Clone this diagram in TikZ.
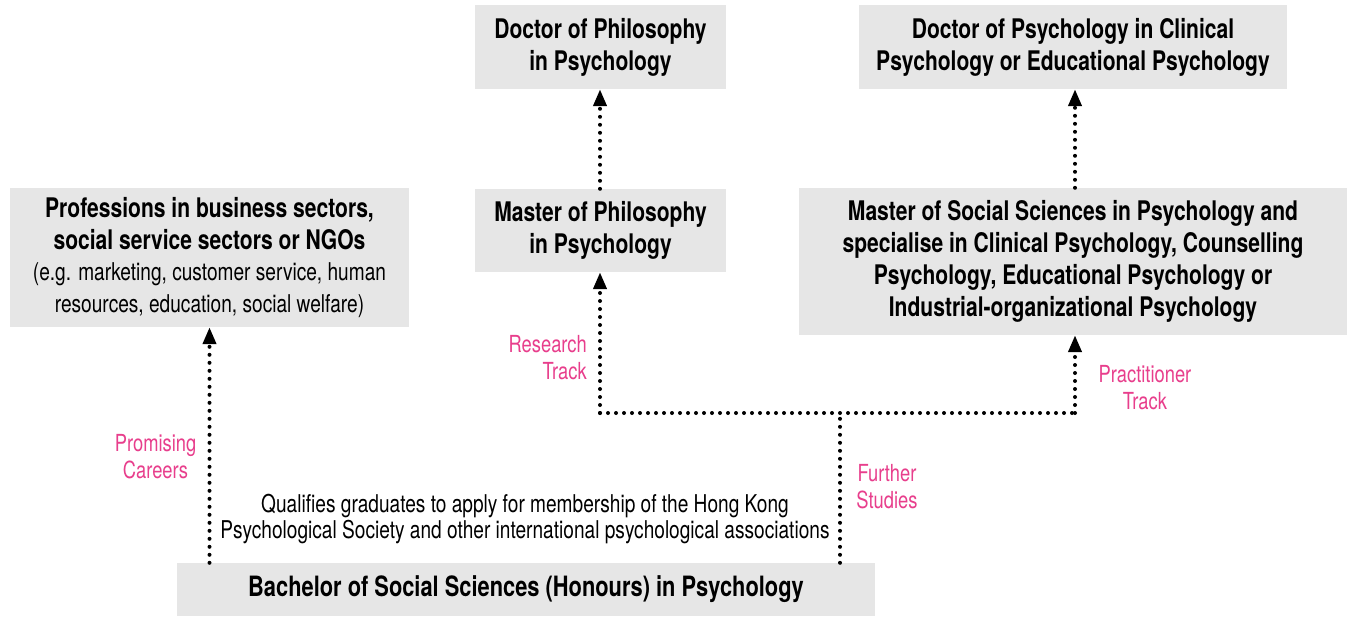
\documentclass[tikz,border=0pt]{standalone}
\usepackage{fontspec}
\setmainfont{TeX Gyre Heros}[FakeStretch=0.78]
\usetikzlibrary{arrows.meta}
\definecolor{boxgray}{RGB}{230,230,230}
\definecolor{pink}{RGB}{232,62,140}
\tikzset{
  box/.style={fill=boxgray, draw=none, inner sep=0pt, align=center,
    font=\bfseries\fontsize{27}{32}\selectfont},
  lbl/.style={text=pink, inner sep=0pt, align=center,
    font=\fontsize{23.5}{27}\selectfont},
  note/.style={inner sep=0pt, align=center, font=\fontsize{24.5}{26}\selectfont},
  dots/.style={line width=4pt, line cap=round, dash pattern=on 0pt off 8pt},
  arr/.style={dots, -{Triangle[width=13pt,length=17pt]}, shorten >=0pt},
}
\newcommand{\subtxt}{\mdseries\fontsize{24.5}{26}\selectfont}
\begin{document}
\begin{tikzpicture}[x=1pt,y=-1pt]
\useasboundingbox[fill=white] (0,0) rectangle (1349,616);
\node[box, minimum width=251pt, minimum height=84pt] (phd) at (600.5,47) {Doctor of Philosophy\\in Psychology};
\node[box, minimum width=428pt, minimum height=84pt] (dpsy) at (1073,47) {Doctor of Psychology in Clinical\\Psychology or Educational Psychology};
\node[box, minimum width=251pt, minimum height=83pt] (mphil) at (600.5,230.5) {Master of Philosophy\\in Psychology};
\node[box, minimum width=548pt, minimum height=147pt] (mssc) at (1073,261.5) {Master of Social Sciences in Psychology and\\specialise in Clinical Psychology, Counselling\\Psychology, Educational Psychology or\\Industrial-organizational Psychology};
\node[box, minimum width=399pt, minimum height=139pt] (prof) at (209.5,257.5) {Professions in business sectors,\\social service sectors or NGOs\\[-1pt]{\subtxt (e.g. marketing, customer service, human}\\{\subtxt resources, education, social welfare)}};
\node[box, minimum width=698pt, minimum height=53pt, font=\bfseries\fontsize{28}{32}\selectfont] (bach) at (526,589.5) {Bachelor of Social Sciences (Honours) in Psychology};

\coordinate (jr) at (600,413);
\coordinate (jp) at (1075,413);
\coordinate (jf) at (840,413);

\draw[arr] (prof.south |- bach.north) -- (prof.south);
\draw[dots] (jf |- bach.north) -- (jf);
\draw[dots] (jr) -- (jp);
\draw[arr] (jr) -- (jr |- mphil.south);
\draw[arr] (jp) -- (jp |- mssc.south);
\draw[arr] (jr |- mphil.north) -- (jr |- phd.south);
\draw[arr] (jp |- mssc.north) -- (jp |- dpsy.south);

\node[lbl, align=right, anchor=east] (lres) at (587,358) {Research\\Track};
\node[lbl] (lpra) at (1145,388) {Practitioner\\Track};
\node[lbl] (lpro) at (155.5,457) {Promising\\Careers};
\node[lbl] (lfur) at (887,487) {Further\\Studies};
\node[note] (qual) at (525,519) {Qualifies graduates to apply for membership of the Hong Kong\\Psychological Society and other international psychological associations};
\end{tikzpicture}
\end{document}
